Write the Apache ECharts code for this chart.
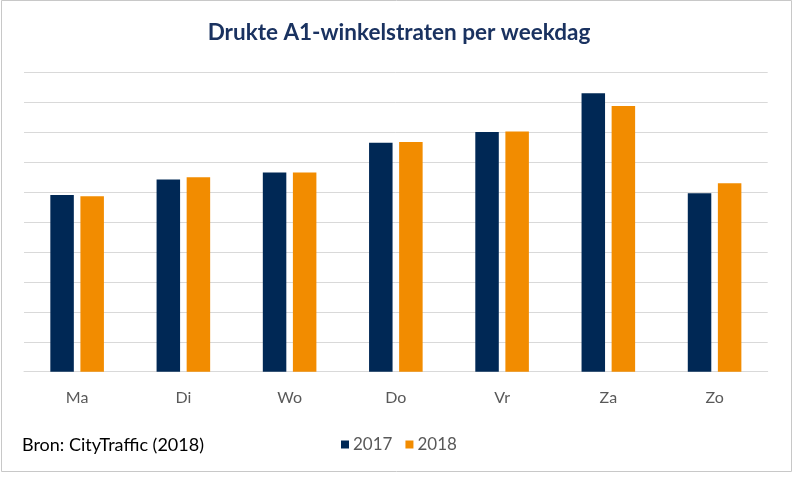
<!DOCTYPE html>
<html>
<head>
<meta charset="utf-8">
<script src="https://cdn.jsdelivr.net/npm/echarts@6/dist/echarts.min.js"></script>
<style>html,body{margin:0;padding:0;background:#fff;}#c{width:810px;height:494px;}</style>
</head>
<body>
<div id="c"></div>
<script>
const categories = ['Ma', 'Di', 'Wo', 'Do', 'Vr', 'Za', 'Zo'];
const values2017 = [5.91, 6.43, 6.66, 7.66, 8.02, 9.31, 5.97];
const values2018 = [5.87, 6.50, 6.66, 7.68, 8.03, 8.89, 6.30];
const seriesNames = ['2017', '2018'];

const chart = echarts.init(document.getElementById('c'), null, {renderer: 'canvas'});
chart.setOption({
  animation: false,
  backgroundColor: '#ffffff',
  title: {
    text: 'Drukte A1-winkelstraten per weekdag',
    left: 394, top: 16, textAlign: 'center',
    textStyle: {fontFamily: 'Lato', fontWeight: 'bold', fontSize: 22.5, color: '#1a3260'}
  },
  graphic: [
    {type: 'rect', shape: {x: 1.5, y: 0.5, width: 790, height: 471}, style: {fill: 'none', stroke: '#c8c8c8', lineWidth: 1}, silent: true},
    {type: 'text', left: 22, top: 436, style: {text: 'Bron: CityTraffic (2018)', font: '18px Lato', fill: '#000000'}}
  ],
  legend: {
    data: seriesNames,
    left: 336, top: 431,
    itemWidth: 8, itemHeight: 8, itemGap: 13,
    icon: 'rect',
    textStyle: {fontFamily: 'Lato', fontSize: 17, color: '#595959', padding: [0, 0, 0, -1]}
  },
  grid: {left: 24, right: 42.3, top: 72.7, bottom: 122.3, containLabel: false},
  xAxis: {
    type: 'category', data: categories,
    axisLine: {lineStyle: {color: '#d9d9d9', width: 1}},
    axisTick: {show: false},
    axisLabel: {fontFamily: 'Lato', fontSize: 16, color: '#595959', margin: 18}
  },
  yAxis: {
    type: 'value', min: 0, max: 10, interval: 1,
    axisLabel: {show: false}, axisLine: {show: false}, axisTick: {show: false},
    splitLine: {lineStyle: {color: '#d9d9d9', width: 1}}
  },
  series: [
    {name: seriesNames[0], type: 'bar', data: values2017, barWidth: 23.5, barGap: '28%', itemStyle: {color: '#002855'}},
    {name: seriesNames[1], type: 'bar', data: values2018, barWidth: 23.5, barGap: '28%', itemStyle: {color: '#f28c00'}}
  ]
});
</script>
</body>
</html>
